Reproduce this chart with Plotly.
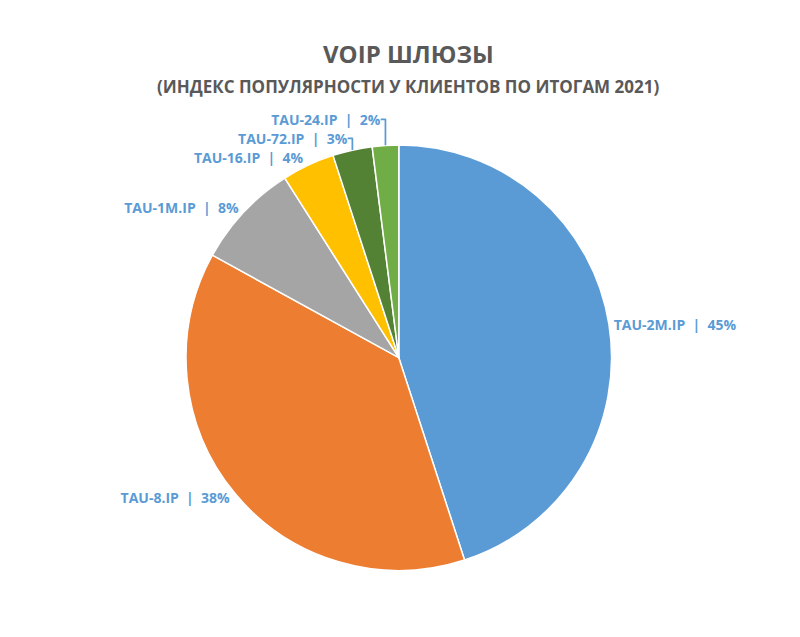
import plotly.graph_objects as go

labels = ["TAU-2M.IP", "TAU-8.IP", "TAU-1M.IP", "TAU-16.IP", "TAU-72.IP", "TAU-24.IP"]
values = [45, 38, 8, 4, 3, 2]
colors = ["#5B9BD5", "#ED7D31", "#A5A5A5", "#FFC000", "#548235", "#70AD47"]

fig = go.Figure(go.Pie(
    labels=labels, values=values, sort=False, direction="clockwise", rotation=0,
    marker=dict(colors=colors, line=dict(color="white", width=1.5)),
    textposition="outside", texttemplate="<b>%{label}  |  %{percent:.0%}</b>",
    textfont=dict(family="Open Sans", size=14, color="#5B9BD5"),
    domain=dict(x=[0.222, 0.755], y=[0.117, 0.785]),
    showlegend=False, hoverinfo="label+percent",
))
fig.update_layout(
    width=800, height=637, margin=dict(l=0, r=0, t=0, b=0),
    paper_bgcolor="white", plot_bgcolor="white",
    annotations=[
        dict(text="<b>VOIP ШЛЮЗЫ</b>", x=0.5, y=1 - 27 / 637, xref="paper", yref="paper",
             showarrow=False, font=dict(family="Open Sans", size=24, color="#595959")),
        dict(text="<b>(ИНДЕКС ПОПУЛЯРНОСТИ У КЛИЕНТОВ ПО ИТОГАМ 2021)</b>", x=0.5, y=1 - 65 / 637,
             xref="paper", yref="paper", showarrow=False,
             font=dict(family="Open Sans", size=17, color="#595959")),
    ],
)
fig.write_html("out.html")
